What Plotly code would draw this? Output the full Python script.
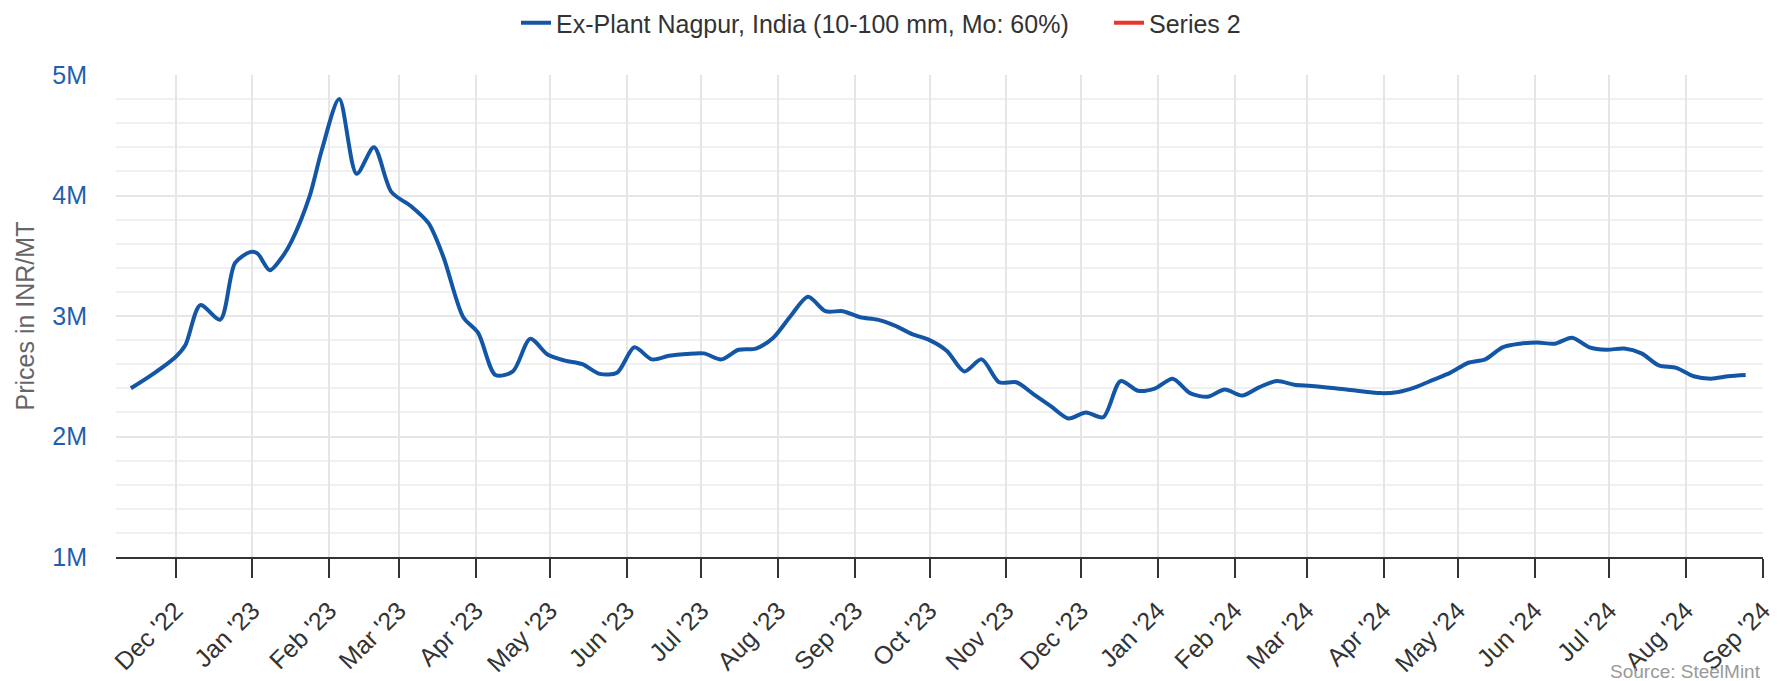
import plotly.graph_objects as go

# ---- data ----
dates = [
    "2022-11-13", "2022-11-22", "2022-12-01", "2022-12-05", "2022-12-11", "2022-12-19",
    "2022-12-25", "2022-12-31", "2023-01-03", "2023-01-08", "2023-01-13", "2023-01-17",
    "2023-01-24", "2023-01-29", "2023-02-05", "2023-02-12", "2023-02-19", "2023-02-26",
    "2023-03-06", "2023-03-13", "2023-03-19", "2023-03-27", "2023-04-02", "2023-04-09",
    "2023-04-16", "2023-04-23", "2023-04-30", "2023-05-07", "2023-05-14", "2023-05-21",
    "2023-05-28", "2023-06-04", "2023-06-11", "2023-06-18", "2023-06-25", "2023-07-02",
    "2023-07-09", "2023-07-16", "2023-07-23", "2023-07-30", "2023-08-06", "2023-08-13",
    "2023-08-20", "2023-08-27", "2023-09-03", "2023-09-10", "2023-09-17", "2023-09-24",
    "2023-10-01", "2023-10-08", "2023-10-15", "2023-10-22", "2023-10-29", "2023-11-05",
    "2023-11-12", "2023-11-19", "2023-11-26", "2023-12-03", "2023-12-10", "2023-12-17",
    "2023-12-24", "2023-12-31", "2024-01-07", "2024-01-14", "2024-01-21", "2024-01-28",
    "2024-02-04", "2024-02-11", "2024-02-18", "2024-02-25", "2024-03-03", "2024-03-17",
    "2024-03-31", "2024-04-07", "2024-04-14", "2024-04-21", "2024-04-28", "2024-05-05",
    "2024-05-12", "2024-05-19", "2024-05-26", "2024-06-02", "2024-06-09", "2024-06-16",
    "2024-06-23", "2024-06-30", "2024-07-07", "2024-07-14", "2024-07-21", "2024-07-28",
    "2024-08-04", "2024-08-11", "2024-08-18", "2024-08-25",
]
prices_m = [
    2.40, 2.52, 2.66, 2.76, 3.09, 2.97,
    3.44, 3.53, 3.52, 3.38, 3.49, 3.63,
    3.99, 4.38, 4.80, 4.18, 4.40, 4.03,
    3.91, 3.77, 3.49, 2.99, 2.86, 2.51,
    2.54, 2.81, 2.68, 2.63, 2.60, 2.52,
    2.53, 2.74, 2.64, 2.67, 2.685, 2.69,
    2.64, 2.72, 2.73, 2.82, 3.00, 3.16,
    3.04, 3.04, 2.99, 2.97, 2.92, 2.85,
    2.80, 2.71, 2.54, 2.64, 2.45, 2.45,
    2.35, 2.25, 2.15, 2.20, 2.16, 2.46,
    2.38, 2.40, 2.48, 2.36, 2.33, 2.39,
    2.34, 2.41, 2.46, 2.43, 2.42, 2.39,
    2.36, 2.37, 2.41, 2.47, 2.53, 2.61,
    2.64, 2.74, 2.77, 2.78, 2.77, 2.82,
    2.74, 2.72, 2.73, 2.69, 2.59, 2.57,
    2.50, 2.48, 2.50, 2.51,
]
prices = [v * 1_000_000 for v in prices_m]

series1_name = "Ex-Plant Nagpur, India (10-100 mm, Mo: 60%)"
series2_name = "Series 2"
y_axis_title = "Prices in INR/MT"
source_text = "Source: SteelMint"

FONT = "Liberation Sans, Arial, Helvetica, sans-serif"
BLUE = "#1456a6"
RED = "#e8362c"

fig = go.Figure()
fig.add_trace(go.Scatter(
    x=dates, y=prices, mode="lines", name=series1_name,
    line=dict(color=BLUE, width=4, shape="spline", smoothing=0.8),
))
fig.add_trace(go.Scatter(
    x=[None], y=[None], mode="lines", name=series2_name,
    line=dict(color=RED, width=4),
))

fig.update_layout(
    width=1789, height=681, autosize=False,
    margin=dict(l=116, r=26, t=75, b=124),
    paper_bgcolor="white", plot_bgcolor="white",
    font=dict(family=FONT, size=25, color="#333333"),
    showlegend=True,
    legend=dict(
        orientation="h", xref="container", yref="container",
        x=516 / 1789, xanchor="left", y=1.0, yanchor="top",
        entrywidth=548, entrywidthmode="pixels",
        font=dict(size=25, color="#333333"),
        bgcolor="rgba(0,0,0,0)",
    ),
    xaxis=dict(
        type="date", range=["2022-11-07", "2024-09-01"],
        tick0="2022-12-01", dtick="M1", tickformat="%b '%y",
        tickangle=-45, ticks="outside", ticklen=19, tickwidth=2, tickcolor="#333333",
        ticklabelstandoff=8, automargin=False,
        showline=True, linecolor="#333333", linewidth=2,
        showgrid=True, gridcolor="#e6e6e6", gridwidth=2,
        zeroline=False, tickfont=dict(size=25, color="#333333"),
    ),
    yaxis=dict(
        range=[1_000_000, 5_000_000], dtick=1_000_000, tickformat="~s",
        showline=False, showgrid=True, gridcolor="#e6e6e6", gridwidth=2,
        minor=dict(dtick=200_000, showgrid=True, gridcolor="#f0f0f0", gridwidth=2),
        zeroline=False, ticks="", ticklabelstandoff=28, automargin=False,
        tickfont=dict(size=25, color="#1f5fae"),
    ),
    annotations=[
        dict(
            text=source_text, xref="paper", yref="paper",
            x=1.0, xanchor="right", y=0.0, yanchor="middle", yshift=-114,
            showarrow=False, font=dict(size=19, color="#999999"),
        ),
        dict(
            text=y_axis_title, xref="paper", yref="paper", textangle=-90,
            x=0.0, xanchor="center", xshift=-91.5,
            y=0.5, yanchor="middle",
            showarrow=False, font=dict(size=25, color="#666666"),
        ),
    ],
)

fig.write_html(
    "out.html",
    config={"displayModeBar": False},
    post_script="document.body.style.margin='0';document.body.style.overflow='hidden';",
)
